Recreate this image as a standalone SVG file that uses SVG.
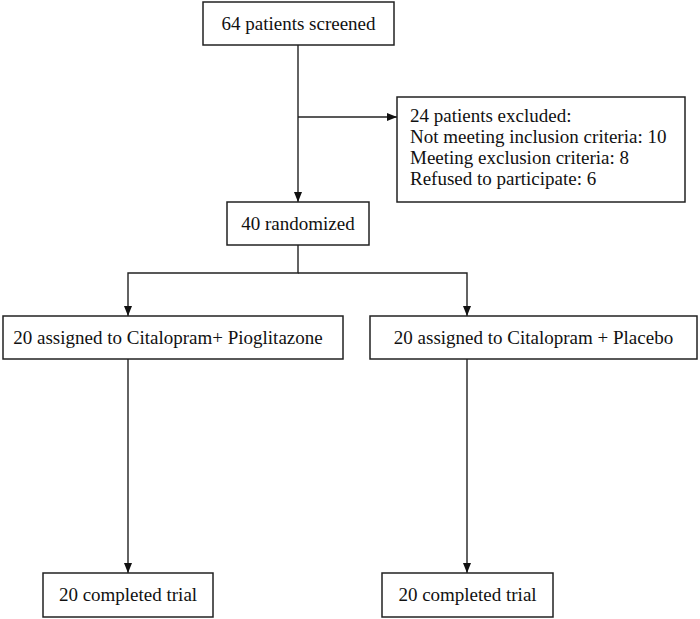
<svg xmlns="http://www.w3.org/2000/svg" width="700" height="619" viewBox="0 0 700 619">
<defs>
<style>
.box{fill:#fff;stroke:#222;stroke-width:1.5}
.t{font-family:"Liberation Serif","Times New Roman",serif;font-size:19px;fill:#111}
.c{text-anchor:middle}
.ln{fill:none;stroke:#222;stroke-width:1.4}
</style>
<marker id="ah" viewBox="0 0 10 10" refX="10" refY="5" markerWidth="10" markerHeight="10" markerUnits="userSpaceOnUse" orient="auto">
<path d="M0,1 L10,5 L0,9 Z" fill="#111"/>
</marker>
</defs>
<rect width="700" height="619" fill="#fff"/>
<g id="connectors">
<path class="ln" d="M298,45 V202" marker-end="url(#ah)"/>
<path class="ln" d="M298,117 H397" marker-end="url(#ah)"/>
<path class="ln" d="M298,245 V273 H128 V316" marker-end="url(#ah)"/>
<path class="ln" d="M298,273 H467 V316" marker-end="url(#ah)"/>
<path class="ln" d="M128,359 V573" marker-end="url(#ah)"/>
<path class="ln" d="M467,359 V573" marker-end="url(#ah)"/>
</g>
<g id="screened">
<rect class="box" x="203" y="2" width="191" height="43"/>
<text class="t c" x="298.5" y="30">64 patients screened</text>
</g>
<g id="excluded">
<rect class="box" x="397" y="97" width="288" height="105"/>
<text class="t" x="410" y="122">24 patients excluded:</text>
<text class="t" x="410" y="143">Not meeting inclusion criteria: 10</text>
<text class="t" x="410" y="164">Meeting exclusion criteria: 8</text>
<text class="t" x="410" y="185">Refused to participate: 6</text>
</g>
<g id="randomized">
<rect class="box" x="227" y="202" width="142" height="43"/>
<text class="t c" x="298" y="230">40 randomized</text>
</g>
<g id="arm1">
<rect class="box" x="3" y="316" width="340" height="43"/>
<text class="t c" x="168" y="344">20 assigned to Citalopram+ Pioglitazone</text>
</g>
<g id="arm2">
<rect class="box" x="370" y="316" width="327" height="43"/>
<text class="t c" x="533.5" y="344">20 assigned to Citalopram + Placebo</text>
</g>
<g id="complete1">
<rect class="box" x="43" y="573" width="170" height="44"/>
<text class="t c" x="128" y="601">20 completed trial</text>
</g>
<g id="complete2">
<rect class="box" x="382" y="573" width="171" height="44"/>
<text class="t c" x="467.5" y="601">20 completed trial</text>
</g>
</svg>
